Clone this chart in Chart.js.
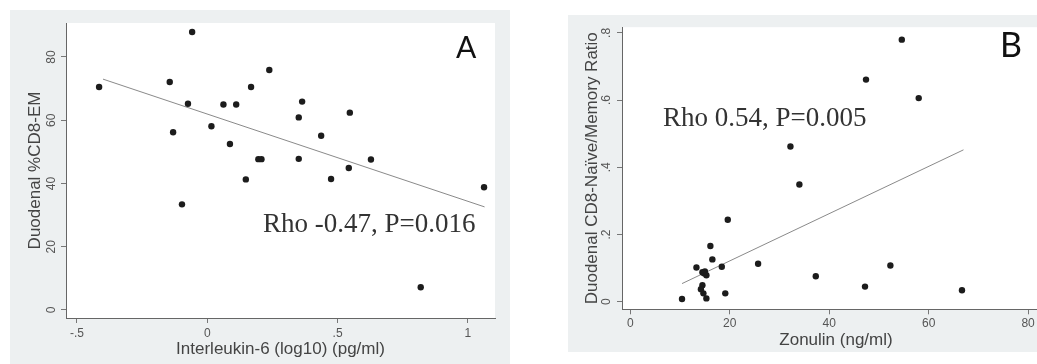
<!DOCTYPE html>
<html>
<head>
<meta charset="utf-8">
<script src="https://cdn.jsdelivr.net/npm/chart.js@4.4.1/dist/chart.umd.min.js"></script>
<style>
html, body { margin: 0; padding: 0; background: #fff; width: 1037px; height: 364px; overflow: hidden; position: relative; }
.panel { position: absolute; }
.note { position: absolute; font-family: 'Liberation Serif', serif; font-size: 27px; color: #333; white-space: nowrap; line-height: 1; }
.tag { position: absolute; font-family: Lato, 'Liberation Sans', sans-serif; color: #111; line-height: 1; }
</style>
</head>
<body>
<div class="panel" style="left:10px;top:10px;width:500px;height:354px"><canvas id="chartA"></canvas></div>
<div class="panel" style="left:568px;top:15px;width:520px;height:337px"><canvas id="chartB"></canvas></div>
<div class="note" style="left:263px;top:210px">Rho -0.47, P=0.016</div>
<div class="note" style="left:663px;top:104px">Rho 0.54, P=0.005</div>
<div class="tag" style="left:456px;top:31px;font-size:30px">A</div>
<div class="tag" style="left:1000px;top:27px;font-size:34px">B</div>
<script>
// Panel A: IL-6 vs duodenal %CD8-EM
const il6Log = [-0.415, -0.058, -0.144, -0.074, -0.131, -0.097, 0.016, 0.062, 0.111, 0.087, 0.168, 0.148, 0.196, 0.208, 0.238, 0.351, 0.364, 0.351, 0.437, 0.475, 0.547, 0.543, 0.628, 0.819, 1.062];
const cd8Em = [70.5, 87.9, 72.1, 65.2, 56.2, 33.4, 58.1, 65.0, 65.0, 52.5, 70.5, 41.3, 47.7, 47.7, 75.9, 60.9, 65.9, 47.8, 55.1, 41.4, 62.4, 44.9, 47.6, 7.2, 38.8];
const fitAX = [-0.40, 1.064];
const fitAY = [73.0, 32.6];
const xTicksA = [-0.5, 0, 0.5, 1];
const yTicksA = [0, 20, 40, 60, 80];

// Panel B: zonulin vs naive/memory ratio
const zonulin = [54.6, 47.4, 58.0, 32.2, 34.0, 19.6, 16.1, 16.5, 18.4, 25.7, 13.3, 52.3, 37.3, 47.2, 66.7, 19.1, 10.4, 14.5, 15.0, 14.8, 15.3, 14.5, 14.2, 14.7, 15.3];
const naiveMem = [0.780, 0.661, 0.606, 0.462, 0.349, 0.244, 0.166, 0.126, 0.104, 0.113, 0.102, 0.108, 0.076, 0.045, 0.034, 0.025, 0.008, 0.088, 0.090, 0.085, 0.079, 0.049, 0.037, 0.025, 0.010];
const fitBX = [10.4, 67.0];
const fitBY = [0.054, 0.452];
const xTicksB = [0, 20, 40, 60, 80];
const yTicksB = [0, 0.2, 0.4, 0.6, 0.8];

// stata-ish labels: drop the leading zero
function fmt(v) {
    return String(v).replace(/^(-?)0\./, '$1.');
}

const panelBg = {
    id: 'panelBg',
    beforeDraw(chart) {
        const { ctx, chartArea: a } = chart;
        ctx.save();
        ctx.fillStyle = '#edf0f1';
        ctx.fillRect(0, 0, chart.width, chart.height);
        ctx.fillStyle = '#ffffff';
        ctx.fillRect(a.left, a.top, a.right - a.left, a.bottom - a.top);
        ctx.restore();
    }
};

function makeScatter(id, cfg) {
    const pts = cfg.xs.map((x, i) => ({ x: x, y: cfg.ys[i] }));
    const fit = cfg.fitX.map((x, i) => ({ x: x, y: cfg.fitY[i] }));
    const tickFont = { family: "'Liberation Sans', Arial, sans-serif", size: 12 };
    const font = size => ({ family: "'Liberation Sans', Arial, sans-serif", size: size });
    return new Chart(document.getElementById(id), {
        type: 'scatter',
        data: {
            datasets: [
                { data: pts, pointRadius: 3.2, pointBackgroundColor: '#1c1c1c', pointBorderWidth: 0, order: 1 },
                { type: 'line', data: fit, showLine: true, pointRadius: 0, borderColor: '#8a8a8a', borderWidth: 1, fill: false, order: 2 }
            ]
        },
        options: {
            responsive: true,
            maintainAspectRatio: false,
            animation: false,
            layout: { padding: cfg.pad },
            plugins: { legend: { display: false }, tooltip: { enabled: false } },
            scales: {
                x: {
                    type: 'linear',
                    min: cfg.xMin, max: cfg.xMax,
                    afterBuildTicks: s => { s.ticks = cfg.xTicks.map(v => ({ value: v })); },
                    afterFit: s => { s.height = cfg.xHeight; },
                    grid: { drawOnChartArea: false, drawTicks: true, tickLength: 5, color: '#777' },
                    border: { display: true, color: '#666', width: 1 },
                    ticks: { font: tickFont, color: '#555', padding: cfg.xTickPad, maxRotation: 0, callback: v => fmt(v) },
                    title: { display: true, text: cfg.xTitle, font: font(cfg.xTitleSize), color: '#444', padding: { top: 0, bottom: cfg.xTitlePad } }
                },
                y: {
                    type: 'linear',
                    min: cfg.yMin, max: cfg.yMax,
                    afterBuildTicks: s => { s.ticks = cfg.yTicks.map(v => ({ value: v })); },
                    afterFit: s => { s.width = cfg.yWidth; },
                    grid: { drawOnChartArea: false, drawTicks: true, tickLength: 5, color: '#777' },
                    border: { display: true, color: '#666', width: 1 },
                    ticks: { font: tickFont, color: '#555', padding: cfg.yTickPad, minRotation: 90, maxRotation: 90, crossAlign: 'center', callback: v => fmt(v) },
                    title: { display: true, text: cfg.yTitle, font: font(cfg.yTitleSize), color: '#444', padding: { top: cfg.yTitlePad, bottom: 0 } }
                }
            }
        },
        plugins: [panelBg]
    });
}

makeScatter('chartA', {
    xs: il6Log, ys: cd8Em, fitX: fitAX, fitY: fitAY,
    xMin: -0.542, xMax: 1.104, yMin: -2.53, yMax: 90.75,
    xTicks: xTicksA, yTicks: yTicksA,
    xTitle: 'Interleukin-6 (log10) (pg/ml)', yTitle: 'Duodenal %CD8-EM',
    xTitleSize: 17, yTitleSize: 17,
    pad: { left: 0, top: 13, right: 15, bottom: 0 },
    yWidth: 56, xHeight: 46, yTickPad: 2.3, xTickPad: 3, yTitlePad: 14.8, xTitlePad: 4.8
});

makeScatter('chartB', {
    xs: zonulin, ys: naiveMem, fitX: fitBX, fitY: fitBY,
    xMin: -1.67, xMax: 84.4, yMin: -0.0225, yMax: 0.817,
    xTicks: xTicksB, yTicks: yTicksB,
    xTitle: 'Zonulin (ng/ml)', yTitle: 'Duodenal CD8-Naïve/Memory Ratio',
    xTitleSize: 17, yTitleSize: 17,
    pad: { left: 0, top: 11, right: 38, bottom: 0 },
    yWidth: 54, xHeight: 42.7, yTickPad: 5, xTickPad: 2, yTitlePad: 13.8, xTitlePad: 1.8
});
</script>
</body>
</html>
